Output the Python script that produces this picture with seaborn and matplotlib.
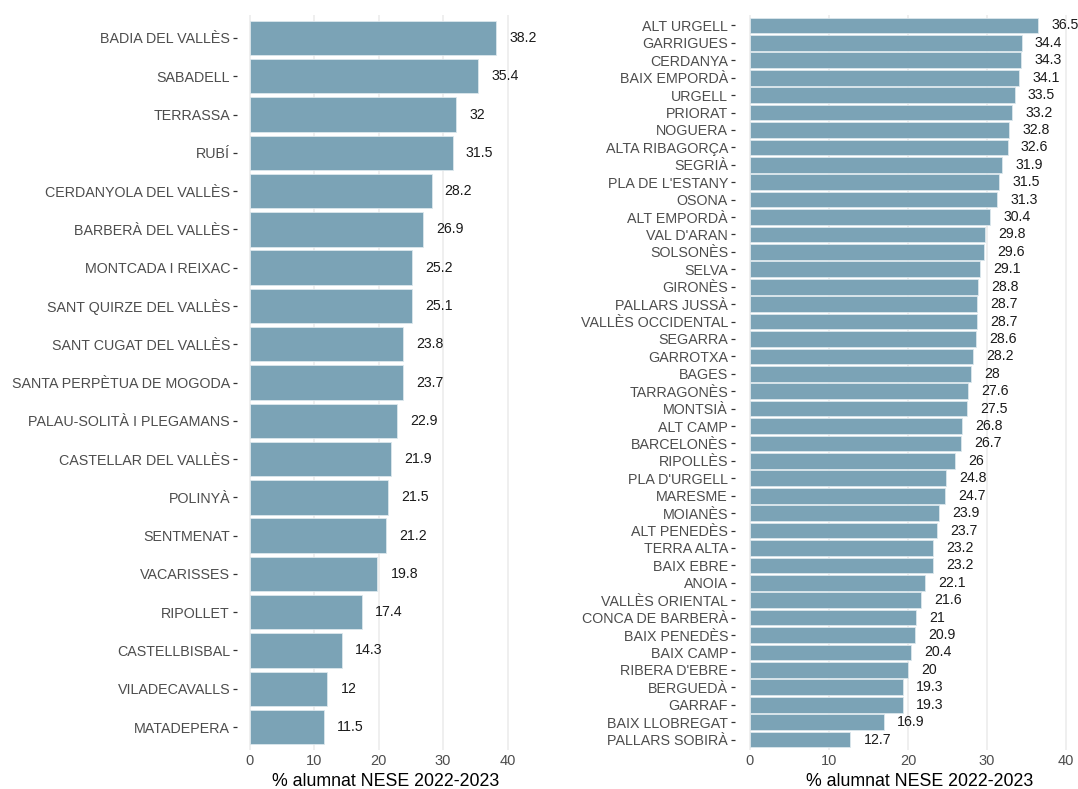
import matplotlib
matplotlib.use("Agg")
import matplotlib.pyplot as plt
import seaborn as sns
import pandas as pd

# Municipis del Vallès Occidental
municipis = ["BADIA DEL VALLÈS", "SABADELL", "TERRASSA", "RUBÍ", "CERDANYOLA DEL VALLÈS",
             "BARBERÀ DEL VALLÈS", "MONTCADA I REIXAC", "SANT QUIRZE DEL VALLÈS",
             "SANT CUGAT DEL VALLÈS", "SANTA PERPÈTUA DE MOGODA", "PALAU-SOLITÀ I PLEGAMANS",
             "CASTELLAR DEL VALLÈS", "POLINYÀ", "SENTMENAT", "VACARISSES", "RIPOLLET",
             "CASTELLBISBAL", "VILADECAVALLS", "MATADEPERA"]
nese_municipis = [38.2, 35.4, 32, 31.5, 28.2, 26.9, 25.2, 25.1, 23.8, 23.7, 22.9,
                  21.9, 21.5, 21.2, 19.8, 17.4, 14.3, 12, 11.5]

# Comarques
comarques = ["ALT URGELL", "GARRIGUES", "CERDANYA", "BAIX EMPORDÀ", "URGELL", "PRIORAT",
             "NOGUERA", "ALTA RIBAGORÇA", "SEGRIÀ", "PLA DE L'ESTANY", "OSONA", "ALT EMPORDÀ",
             "VAL D'ARAN", "SOLSONÈS", "SELVA", "GIRONÈS", "PALLARS JUSSÀ", "VALLÈS OCCIDENTAL",
             "SEGARRA", "GARROTXA", "BAGES", "TARRAGONÈS", "MONTSIÀ", "ALT CAMP", "BARCELONÈS",
             "RIPOLLÈS", "PLA D'URGELL", "MARESME", "MOIANÈS", "ALT PENEDÈS", "TERRA ALTA",
             "BAIX EBRE", "ANOIA", "VALLÈS ORIENTAL", "CONCA DE BARBERÀ", "BAIX PENEDÈS",
             "BAIX CAMP", "RIBERA D'EBRE", "BERGUEDÀ", "GARRAF", "BAIX LLOBREGAT",
             "PALLARS SOBIRÀ"]
nese_comarques = [36.5, 34.4, 34.3, 34.1, 33.5, 33.2, 32.8, 32.6, 31.9, 31.5, 31.3, 30.4,
                  29.8, 29.6, 29.1, 28.8, 28.7, 28.7, 28.6, 28.2, 28, 27.6, 27.5, 26.8, 26.7,
                  26, 24.8, 24.7, 23.9, 23.7, 23.2, 23.2, 22.1, 21.6, 21, 20.9, 20.4, 20,
                  19.3, 19.3, 16.9, 12.7]

x_ticks = [0, 10, 20, 30, 40]
x_title = "% alumnat NESE 2022-2023"

BAR_COLOR = "#7BA3B6"
GRID_COLOR = "#EBEBEB"
TICK_COLOR = "#4D4D4D"

sns.set_style("white")
plt.rcParams['font.family'] = ['Liberation Sans', 'DejaVu Sans']

fig = plt.figure(figsize=(10.78, 7.89), dpi=100)
ax1 = fig.add_axes([0.2199, 0.0494, 0.2551, 0.9316])
ax2 = fig.add_axes([0.6818, 0.0494, 0.3108, 0.9316])


def draw_panel(ax, names, values, xlim, title_x):
    df = pd.DataFrame({"nom": names, "valor": values})
    ax.set_axisbelow(True)
    for t in x_ticks:
        ax.axvline(t, color=GRID_COLOR, lw=1.1, zorder=0)
    sns.barplot(data=df, x="valor", y="nom", orient="h", color=BAR_COLOR,
                saturation=1, width=0.9, edgecolor="#DCE7EC", linewidth=0.6, ax=ax)
    # value labels just right of each bar
    for i, v in enumerate(values):
        ax.annotate(f"{v:g}", xy=(v, i), xytext=(9.5, 0), textcoords="offset points",
                    ha="left", va="center", fontsize=10.2, color="#1A1A1A",
                    annotation_clip=False)
    ax.set_xlim(*xlim)
    ax.set_ylim(len(names) - 0.4, -0.6)
    ax.set_xticks(x_ticks)
    ax.set_xticklabels([str(t) for t in x_ticks])
    ax.tick_params(axis="x", bottom=False, length=0, labelsize=10.5,
                   labelcolor=TICK_COLOR, pad=3)
    ax.tick_params(axis="y", left=True, length=3, width=0.9, color="#333333",
                   labelsize=10.3, labelcolor=TICK_COLOR, pad=2)
    ax.set_ylabel("")
    ax.set_xlabel(x_title, fontsize=12.8, color="black")
    ax.xaxis.set_label_coords(title_x, -0.031)
    for s in ax.spines.values():
        s.set_visible(False)


draw_panel(ax1, municipis, nese_municipis, (-2.0, 40.7), 0.542)
draw_panel(ax2, comarques, nese_comarques, (-1.9, 40.5), 0.552)

fig.savefig("out.png", dpi=100, facecolor="white")
